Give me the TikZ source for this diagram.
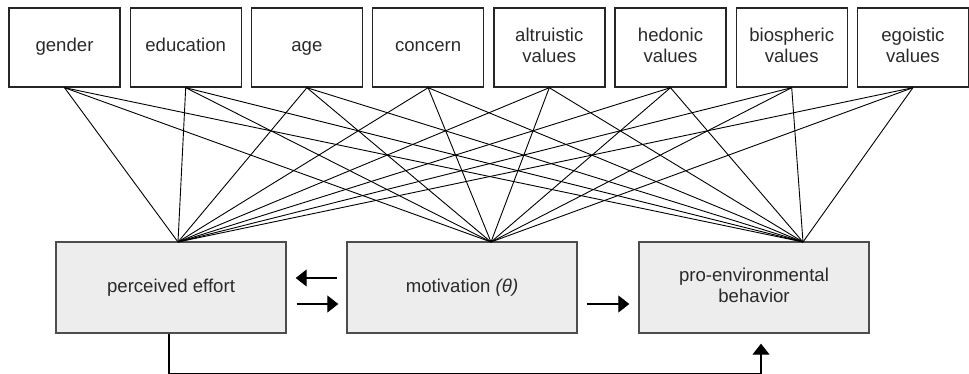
\documentclass[tikz,border=0pt]{standalone}
\usepackage{fontspec}
\setmainfont{Liberation Sans}
\usepackage{tikz}
\usetikzlibrary{arrows.meta,calc,positioning}
\usepackage{xcolor}
\definecolor{boxgrey}{HTML}{EDEDED}
\definecolor{edgegrey}{HTML}{4D4D4D}
\definecolor{txtgrey}{HTML}{2A2A2A}

\begin{document}
\begin{tikzpicture}[x=0.5pt, y=-0.5pt,
  factor/.style={draw=black!85, line width=0.7pt, minimum width=55.5pt, minimum height=39.5pt,
    inner sep=0pt, align=center, text=txtgrey, font=\fontsize{9.3}{10.8}\selectfont},
  outcome/.style={draw=edgegrey, fill=boxgrey, line width=0.7pt, minimum width=115pt, minimum height=45.5pt,
    inner sep=0pt, align=center, text=txtgrey, font=\fontsize{9.3}{10.8}\selectfont},
  link/.style={line width=0.45pt},
  flow/.style={line width=0.6pt, -{Triangle[length=5.5pt,width=8.5pt]}}]

\useasboundingbox (0,0) rectangle (969,374);

% predictors
\foreach \name/\label [count=\i from 0] in {gen/gender, edu/education, age/age, con/concern,
    alt/{altruistic\\\strut values}, hed/{hedonic\\\strut values}, bio/{biospheric\\\strut values},
    ego/{egoistic\\\strut values}}
  \node[factor] (\name) at ({64.5+121.2*\i},47.5) {\strut\label};

% outcomes
\node[outcome] (effort) at (171,287.5) {perceived effort};
\node[outcome] (motiv)  at (462,287.5) {motivation \textit{(θ)}};
\node[outcome] (behav)  at (754,287.5) {\strut pro-environmental\\\strut behavior};

\coordinate (effin) at (178,242);
\coordinate (motin) at (491,242);
\coordinate (behin) at (803,242);

% all predictors to all outcomes
\foreach \f in {gen,edu,age,con,alt,hed,bio,ego}
  \foreach \t in {effin,motin,behin}
    \draw[link] (\f.south) -- (\t);

% paths between outcomes
\draw[flow, shorten <=4.5pt, shorten >=4.5pt] ([yshift=4.75pt]motiv.west) -- ([yshift=4.75pt]effort.east);
\draw[flow, shorten <=5pt, shorten >=4pt] ([yshift=-8.25pt]effort.east) -- ([yshift=-8.25pt]motiv.west);
\draw[flow, shorten <=4.5pt, shorten >=4.5pt] ([yshift=-8.25pt]motiv.east) -- ([yshift=-8.25pt]behav.west);
\draw[flow, shorten >=5pt] ([xshift=-1pt]effort.south) -- ++(0,39.5) -| ([xshift=3.5pt]behav.south);

\end{tikzpicture}
\end{document}
